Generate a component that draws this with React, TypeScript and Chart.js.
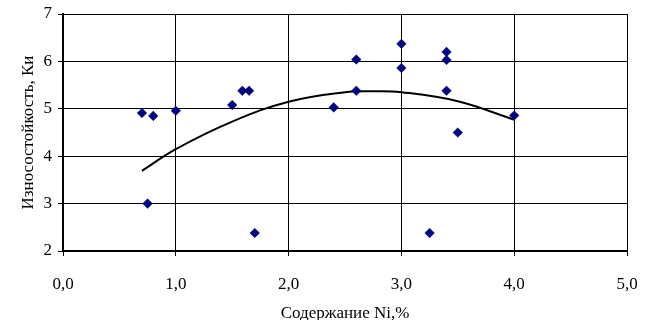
import React, { useEffect, useRef } from "react";
import { Chart, registerables } from "chart.js";

Chart.register(...registerables);

// Measured points: Ni content (%) vs wear resistance (Ки)
const niContent = [0.7, 0.8, 1.0, 0.75, 1.5, 1.59, 1.65, 1.7, 2.4, 2.6, 2.6, 3.0, 3.0, 3.4, 3.4, 3.4, 3.5, 3.25, 4.0];
const wearValues = [4.91, 4.85, 4.96, 3.0, 5.08, 5.38, 5.38, 2.38, 5.03, 6.04, 5.38, 6.37, 5.86, 6.2, 6.03, 5.38, 4.5, 2.38, 4.86];

// Polynomial trend line
const trendX = [0.7, 1.0, 1.5, 2.0, 2.5, 2.75, 3.0, 3.5, 4.0];
const trendY = [3.69, 4.15, 4.73, 5.15, 5.35, 5.37, 5.35, 5.16, 4.77];

const xTickLabels = ["0,0", "1,0", "2,0", "3,0", "4,0", "5,0"];
const xTitle = "Содержание Ni,%";
const yTitle = "Износостойкость, Ки";

export default function App() {
  const ref = useRef<HTMLCanvasElement | null>(null);

  useEffect(() => {
    if (!ref.current) return;
    const font = { family: "'Liberation Serif', 'Times New Roman', serif", size: 17 };
    const chart = new Chart(ref.current, {
      type: "scatter",
      data: {
        datasets: [
          {
            label: "points",
            data: niContent.map((x, i) => ({ x, y: wearValues[i] })),
            pointStyle: "rectRot",
            pointRadius: 4.8,
            pointBackgroundColor: "#000080",
            pointBorderColor: "#000080",
            pointBorderWidth: 0.5,
            order: 0,
          },
          {
            label: "trend",
            data: trendX.map((x, i) => ({ x, y: trendY[i] })),
            showLine: true,
            borderColor: "#000000",
            borderWidth: 2,
            pointRadius: 0,
            tension: 0.4,
            order: 1,
          },
        ],
      },
      options: {
        animation: false,
        responsive: false,
        devicePixelRatio: 1,
        layout: { padding: { top: 14, right: 19, left: 0, bottom: 0 } },
        plugins: { legend: { display: false }, tooltip: { enabled: false } },
        scales: {
          x: {
            type: "linear",
            min: 0,
            max: 5,
            afterFit: (s: any) => {
              s.height = 69;
              s.paddingLeft = 0;
              s.paddingRight = 0;
            },
            ticks: {
              stepSize: 1,
              color: "#000",
              font,
              padding: 18,
              maxRotation: 0,
              callback: (_v: any, i: number) => xTickLabels[i],
            },
            grid: { color: "#000", lineWidth: 1, tickLength: 5 },
            border: { color: "#000", width: 2 },
            title: {
              display: true,
              text: xTitle,
              color: "#000",
              font,
              padding: { top: 0, bottom: -4 },
            },
          },
          y: {
            type: "linear",
            min: 2,
            max: 7,
            afterFit: (s: any) => {
              s.width = 63;
              s.paddingTop = 0;
              s.paddingBottom = 0;
            },
            ticks: { stepSize: 1, color: "#000", font, padding: 6 },
            grid: { color: "#000", lineWidth: 1, tickLength: 5 },
            border: { color: "#000", width: 2 },
            title: {
              display: true,
              text: yTitle,
              color: "#000",
              font,
              padding: { top: 18, bottom: 0 },
            },
          },
        },
      },
    });
    return () => chart.destroy();
  }, []);

  return (
    <div style={{ position: "fixed", left: 0, top: 0, width: 646, height: 320, background: "#fff" }}>
      <canvas ref={ref} width={646} height={320} style={{ width: 646, height: 320 }} />
    </div>
  );
}
